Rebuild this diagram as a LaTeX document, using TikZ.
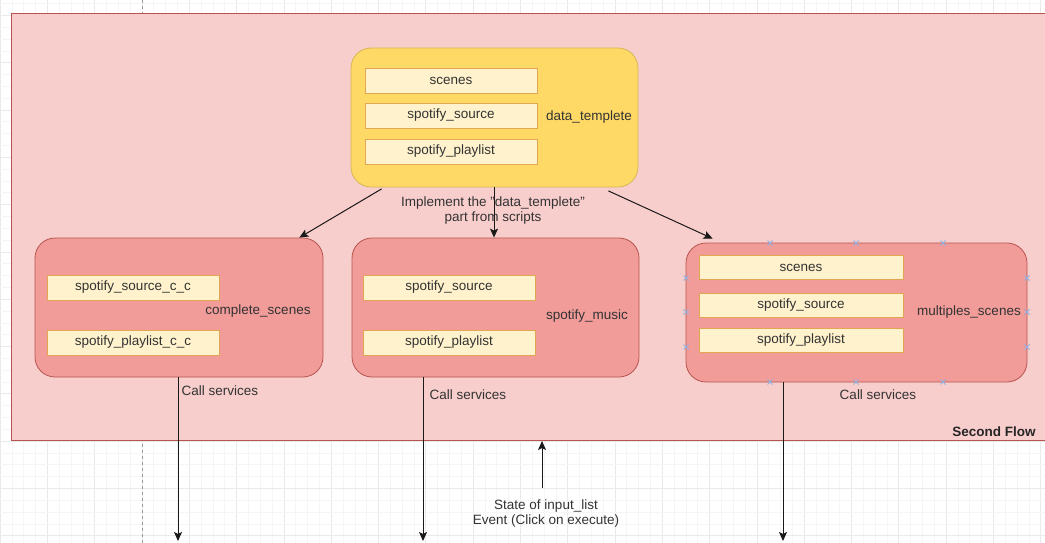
\documentclass[tikz,border=0pt]{standalone}
\usepackage{fontspec}
\setmainfont{Liberation Sans}
\usetikzlibrary{arrows.meta,calc}
\definecolor{bigfill}{HTML}{F8CECC}
\definecolor{bigdraw}{HTML}{B85450}
\definecolor{redfill}{HTML}{F19C99}
\definecolor{yelfill}{HTML}{FFD966}
\definecolor{yeldraw}{HTML}{D6B656}
\definecolor{itemfill}{HTML}{FFF2CC}
\definecolor{itemdraw}{HTML}{E3A653}
\definecolor{txt}{HTML}{333333}
\definecolor{markc}{HTML}{8FB0E0}
\definecolor{gridmin}{HTML}{F5F5F5}
\definecolor{gridmaj}{HTML}{EAEAEA}
\tikzset{
  every node/.style={font=\fontsize{13.5}{15}\selectfont, text=txt, inner sep=0pt},
  bigbox/.style={draw=bigdraw, fill=bigfill, line width=1pt},
  redbox/.style={draw=bigdraw, fill=redfill, rounded corners=20pt, line width=0.8pt},
  yelbox/.style={draw=yeldraw, fill=yelfill, rounded corners=20pt, line width=0.8pt},
  itembox/.style={draw=itemdraw, fill=itemfill, line width=0.8pt},
  lbl/.style={align=center},
  arr/.style={draw=black!90, line width=1pt, -{Stealth[length=9pt,width=8pt,inset=2pt]}},
  mk/.style={draw=markc, line width=0.9pt}
}
\begin{document}
\begin{tikzpicture}[x=1pt,y=-1pt]
\useasboundingbox (0,0) rectangle (1045,543);
\fill[white] (0,0) rectangle (1045,543);
% grid
\foreach \i in {0,...,89} {
  \pgfmathtruncatemacro{\m}{mod(\i,4)}
  \ifnum\m=0
    \draw[gridmaj, line width=0.6pt] ({\i*11.825},0) -- ({\i*11.825},543);
  \else
    \draw[gridmin, line width=0.5pt] ({\i*11.825},0) -- ({\i*11.825},543);
  \fi
}
\foreach \j in {-1,...,46} {
  \pgfmathtruncatemacro{\m}{mod(\j+8,4)}
  \ifnum\m=0
    \draw[gridmaj, line width=0.6pt] (0,{15.3+\j*11.825}) -- (1045,{15.3+\j*11.825});
  \else
    \draw[gridmin, line width=0.5pt] (0,{15.3+\j*11.825}) -- (1045,{15.3+\j*11.825});
  \fi
}
\draw[black!40, dashed, line width=0.6pt] (142,0) -- (142,543);

% big container
\node[bigbox, minimum width=1045pt, minimum height=427pt, anchor=north west] (flow) at (11,13) {};
\node[font=\fontsize{13.5}{15}\selectfont\bfseries, text=black!85] (sf) at (994,432) {Second Flow};

% data_templete
\node[yelbox, minimum width=287pt, minimum height=139pt] (yel) at (494.5,117.5) {};
\node[itembox, minimum width=172pt, minimum height=25pt] (y1) at (451,80.5) {scenes};
\node[itembox, minimum width=172pt, minimum height=25pt] (y2) at (451,115.5) {spotify\_source};
\node[itembox, minimum width=172pt, minimum height=25pt] (y3) at (451,151.5) {spotify\_playlist};
\node (ylbl) at (589,117) {data\_templete};

% complete_scenes
\node[redbox, minimum width=288pt, minimum height=139pt] (cs) at (179,307.5) {};
\node[itembox, minimum width=172pt, minimum height=25pt] (c1) at (133,287.5) {spotify\_source\_c\_c};
\node[itembox, minimum width=172pt, minimum height=25pt] (c2) at (133,342.5) {spotify\_playlist\_c\_c};
\node (clbl) at (258,311) {complete\_scenes};

% spotify_music
\node[redbox, minimum width=287pt, minimum height=139pt] (sm) at (495.5,307.5) {};
\node[itembox, minimum width=172pt, minimum height=25pt] (s1) at (449,287.5) {spotify\_source};
\node[itembox, minimum width=172pt, minimum height=25pt] (s2) at (449,342.5) {spotify\_playlist};
\node (slbl) at (587,316) {spotify\_music};

% multiples_scenes
\node[redbox, minimum width=341pt, minimum height=139pt] (ms) at (856.5,312.5) {};
\node[itembox, minimum width=204pt, minimum height=24pt] (m1) at (801,267.5) {scenes};
\node[itembox, minimum width=204pt, minimum height=24pt] (m2) at (801,305) {spotify\_source};
\node[itembox, minimum width=204pt, minimum height=24pt] (m3) at (801,340.5) {spotify\_playlist};
\node (mlbl) at (969,312) {multiples\_scenes};

% selection markers
\foreach \x in {770,856,943} {
  \foreach \y in {243,382} {
    \draw[mk] (\x-2.5,\y-2.5) -- (\x+2.5,\y+2.5) (\x-2.5,\y+2.5) -- (\x+2.5,\y-2.5);
  }
}
\foreach \y in {278,312,347} {
  \foreach \x in {686,1027} {
    \draw[mk] (\x-2.5,\y-2.5) -- (\x+2.5,\y+2.5) (\x-2.5,\y+2.5) -- (\x+2.5,\y-2.5);
  }
}

% top arrows
\draw[arr] ($(yel.south west)+(31,1.5)$) -- ($(cs.north east)+(-24,0)$);
\draw[arr] ($(yel.south)+(-0.5,0)$) -- ($(sm.north)+(-1.5,0)$);
\draw[arr] ($(yel.south east)+(-30,3.5)$) -- ($(ms.north west)+(27,-4)$);
\node[lbl] (impl) at (493,210.5) {Implement the \symbol{34}data\_templete\symbol{34}\\part from scripts};

% down arrows
\coordinate (d1) at (178,541);
\coordinate (d2) at (423,541);
\coordinate (d3) at (783,541);
\draw[arr] (cs.south -| d1) -- (d1);
\draw[arr] (sm.south -| d2) -- (d2);
\draw[arr] (ms.south -| d3) -- (d3);
\node (cl1) at (220,391) {Call services};
\node (cl2) at (468,395) {Call services};
\node (cl3) at (878,395) {Call services};

% up arrow
\coordinate (u0) at (542,488);
\draw[arr] (u0) -- (u0 |- flow.south);
\node[lbl] (state) at (546,513.5) {State of input\_list\\Event (Click on execute)};
\end{tikzpicture}
\end{document}
